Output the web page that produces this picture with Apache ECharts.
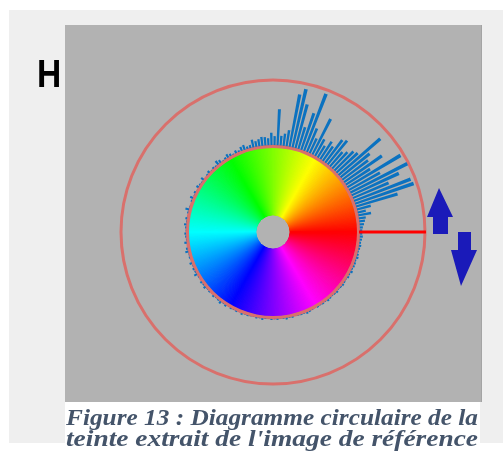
<!DOCTYPE html>
<html>
<head>
<meta charset="utf-8">
<script src="https://cdn.jsdelivr.net/npm/echarts/dist/echarts.min.js"></script>
<style>
  html, body { margin: 0; padding: 0; background: #ffffff; }
  #chart { width: 503px; height: 454px; }
</style>
</head>
<body>
<div id="chart"></div>
<script>
// Hue histogram: one bin every 2 degrees, counter-clockwise from red (0°)
const binSize = 2;
const hueCounts = [
  5, 6, 8, 10, 12, 21, 14, 23, 67, 95,
  93, 60, 80, 98, 55, 95, 45, 71, 50, 58,
  85, 45, 42, 35, 30, 48, 44, 28, 33, 22,
  30, 62, 26, 40, 94, 60, 36, 70, 92, 82,
  26, 20, 16, 56, 15, 20, 12, 14, 15, 12,
  10, 13, 6, 5, 9, 8, 4, 6, 3, 5,
  7, 4, 2, 6, 8, 3, 4, 2, 5, 3,
  0, 6, 2, 3, 5, 1, 4, 2, 6, 3,
  0, 2, 7, 3, 1, 4, 2, 5, 3, 2,
  4, 3, 2, 5, 0, 4, 6, 2, 3, 1,
  5, 2, 4, 3, 6, 2, 1, 4, 3, 5,
  2, 3, 1, 4, 2, 3, 5, 2, 4, 1,
  3, 2, 3, 1, 4, 2, 3, 2, 1, 3,
  2, 4, 2, 1, 3, 2, 3, 1, 2, 4,
  2, 3, 1, 2, 3, 2, 4, 3, 2, 1,
  3, 2, 3, 2, 4, 3, 2, 3, 4, 2,
  3, 4, 3, 2, 4, 3, 5, 3, 4, 4,
  3, 5, 4, 3, 4, 5, 4, 5, 6, 5
];
const binLabels = hueCounts.map((_, i) => String(i * binSize));
const countMax = 100;

// Hue wheel: one slice per degree
const wheelHues = Array.from({ length: 360 }, (_, i) => i);

// Selected hue marker (degrees)
const selectedHue = [0];

const captionLines = [
  "Figure 13 : Diagramme circulaire de la",
  "teinte extrait de l'image de référence"
];
const channelLabel = "H";

// Layout
const cx = 273, cy = 232;
const holeR = 17, wheelR = 84, histR = 86, outerR = 152;
const ringColor = '#d9706c';
const barColor = '#0b72c0';
const arrowColor = '#1a1ab9';
const captionColor = '#44546a';
const captionFamily = 'Liberation Serif';
const captionSize = 24;
const captionWidth = 412;

function measure(text) {
  const c = document.createElement('canvas').getContext('2d');
  c.font = 'italic bold ' + captionSize + 'px "' + captionFamily + '"';
  return c.measureText(text).width;
}

const chart = echarts.init(document.getElementById('chart'), null, { renderer: 'canvas' });

// Caption lines stretched to the full justified width
const captionGraphics = captionLines.map((t, i) => ({
  type: 'text',
  x: 66,
  y: 419 + i * 20.5,
  scaleX: captionWidth / measure(t),
  z: 20,
  style: {
    text: t,
    fontFamily: captionFamily,
    fontStyle: 'italic',
    fontWeight: 'bold',
    fontSize: captionSize,
    fill: captionColor,
    verticalAlign: 'middle',
    align: 'left'
  }
}));

chart.setOption({
  animation: false,
  backgroundColor: '#ffffff',
  graphic: [
    { type: 'rect', z: -10, shape: { x: 9, y: 10, width: 494, height: 433 }, style: { fill: '#efefef' } },
    { type: 'rect', z: -9, shape: { x: 65, y: 25, width: 417, height: 377 }, style: { fill: '#b2b2b2' } },
    { type: 'rect', z: -9, shape: { x: 481, y: 25, width: 1, height: 377 }, style: { fill: '#a4a4a4' } },
    { type: 'rect', z: -9, shape: { x: 65, y: 402, width: 415, height: 52 }, style: { fill: '#ffffff' } },
    {
      type: 'text', x: 37, y: 76, scaleX: 0.86, z: 20,
      style: { text: channelLabel, fontFamily: 'Liberation Sans', fontWeight: 'bold', fontSize: 39, fill: '#000000', verticalAlign: 'middle' }
    },
    {
      type: 'polygon', z: 20,
      shape: { points: [[439, 188], [453, 217], [448, 217], [448, 234], [433, 234], [433, 217], [427, 217]] },
      style: { fill: arrowColor }
    },
    {
      type: 'polygon', z: 20,
      shape: { points: [[458, 232], [471, 232], [471, 250], [477, 250], [461, 286], [451, 250], [458, 250]] },
      style: { fill: arrowColor }
    },
    ...captionGraphics
  ],
  polar: [
    { center: [cx, cy], radius: [histR, outerR] },
    { center: [cx, cy], radius: [histR, outerR + 1] }
  ],
  angleAxis: [
    {
      polarIndex: 0,
      type: 'category',
      data: binLabels,
      startAngle: 0,
      clockwise: false,
      boundaryGap: true,
      axisLine: { show: true, lineStyle: { color: ringColor, width: 3 } },
      axisTick: { show: false },
      axisLabel: { show: false },
      splitLine: { show: false }
    },
    {
      polarIndex: 1,
      type: 'value',
      min: 0,
      max: 360,
      startAngle: 0,
      clockwise: false,
      show: false
    }
  ],
  radiusAxis: [
    { polarIndex: 0, type: 'value', min: 0, max: countMax, show: false },
    { polarIndex: 1, type: 'value', min: 0, max: 1, show: false }
  ],
  series: [
    {
      type: 'pie',
      center: [cx, cy],
      radius: [holeR, wheelR],
      startAngle: 0,
      clockwise: false,
      silent: true,
      label: { show: false },
      labelLine: { show: false },
      emphasis: { disabled: true },
      data: wheelHues.map(h => {
        const col = 'hsl(' + h + ',100%,50%)';
        return { value: 1, itemStyle: { color: col, borderColor: col, borderWidth: 1 } };
      }),
      z: 3
    },
    {
      type: 'bar',
      coordinateSystem: 'polar',
      polarIndex: 0,
      data: hueCounts,
      barWidth: '70%',
      itemStyle: { color: barColor },
      silent: true,
      z: 2
    },
    {
      type: 'pie',
      center: [cx, cy],
      radius: [wheelR, histR + 1],
      silent: true,
      label: { show: false },
      labelLine: { show: false },
      emphasis: { disabled: true },
      data: [{ value: 1, itemStyle: { color: ringColor } }],
      z: 4
    },
    {
      type: 'line',
      coordinateSystem: 'polar',
      polarIndex: 1,
      data: [[0, selectedHue[0]], [1, selectedHue[0]]],
      symbol: 'none',
      lineStyle: { color: '#ff0000', width: 3 },
      silent: true,
      z: 5
    }
  ]
});
</script>
</body>
</html>
